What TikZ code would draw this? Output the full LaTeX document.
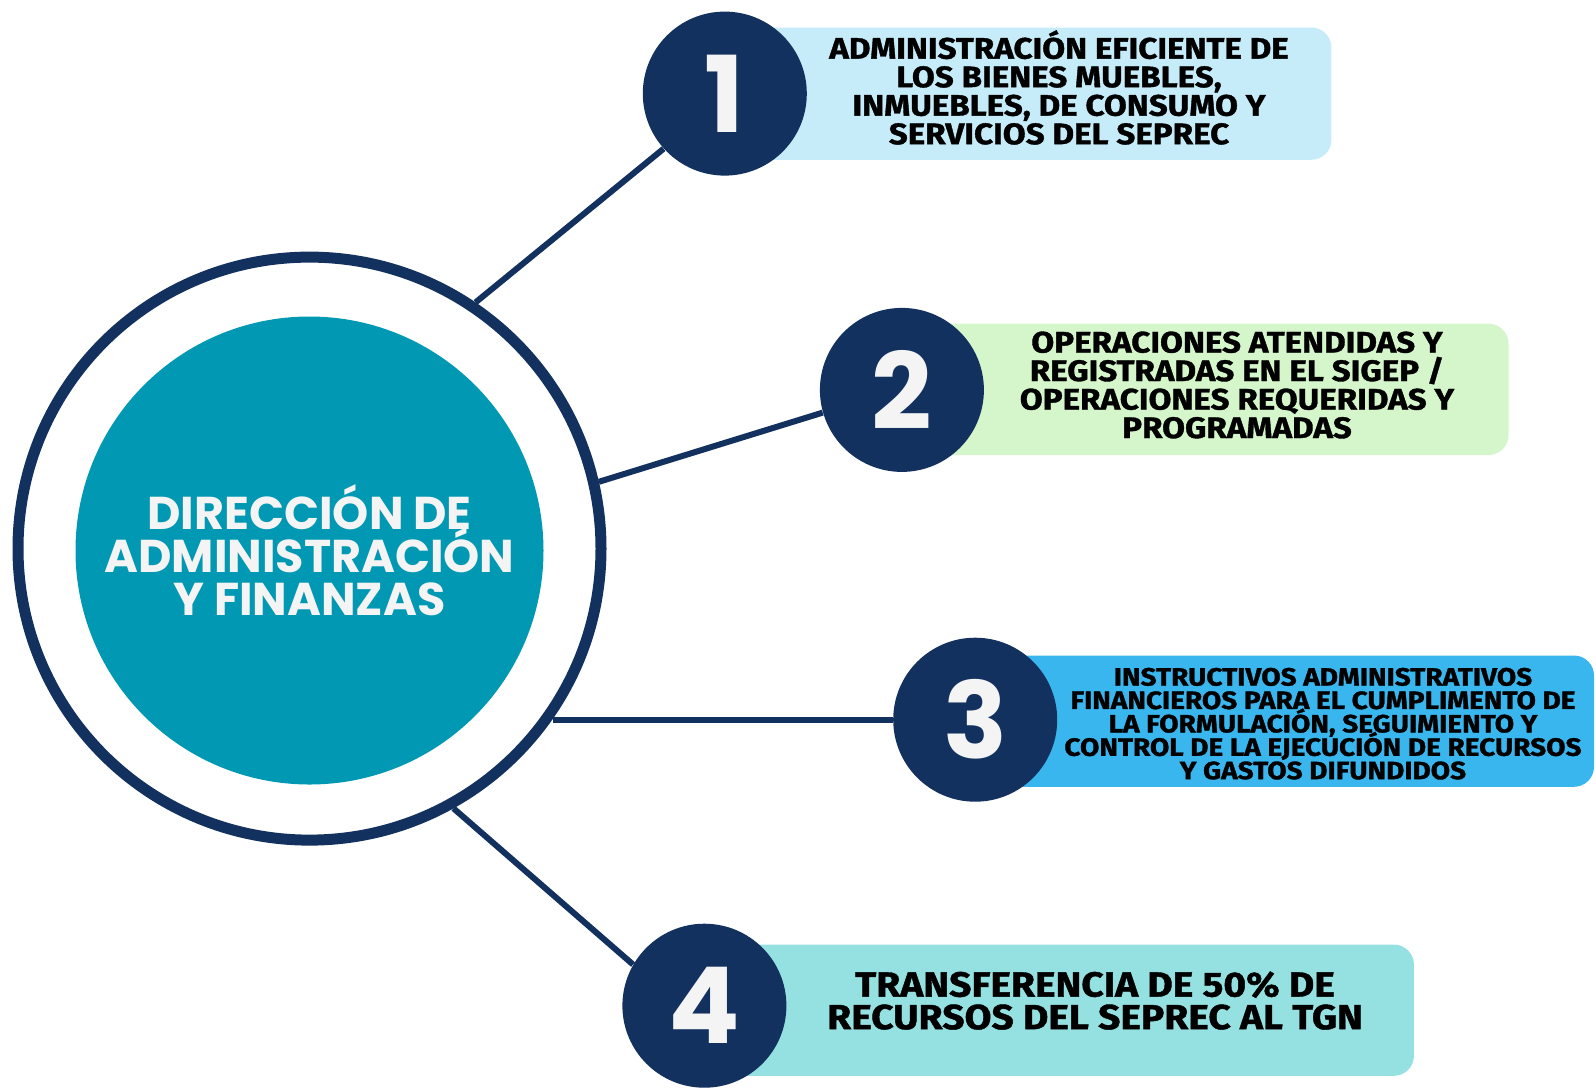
\documentclass[tikz,border=0pt]{standalone}
\usepackage{fontspec}
\setmainfont{Fira Sans}
\newfontfamily\headfont{Poppins}
\newfontfamily\boxfont[FakeStretch=1.12,BoldFeatures={FakeBold=1.2}]{Fira Sans}
\usetikzlibrary{backgrounds}
\definecolor{navy}{HTML}{12315E}
\definecolor{teal}{HTML}{0198B3}
\definecolor{boxA}{HTML}{C5ECF8}
\definecolor{boxB}{HTML}{D5F6CB}
\definecolor{boxC}{HTML}{3AB6EF}
\definecolor{boxD}{HTML}{95E1E2}
\definecolor{offwhite}{HTML}{F4F4F4}
\def\ringsize{291.5pt}
\def\numsize{82pt}
\def\tightlines{\lineskiplimit=-20pt\relax}

\begin{document}
\begin{tikzpicture}[x=0.5pt,y=-0.5pt]
    \tikzstyle{ring}=[circle,draw=navy,line width=5.5pt,minimum size=\ringsize,inner sep=0pt]
    \tikzstyle{hub}=[circle,fill=teal,minimum size=234pt,inner sep=0pt,text=offwhite,align=center,
        font=\headfont\bfseries\fontsize{23}{21.6}\selectfont\tightlines]
    \tikzstyle{number}=[circle,fill=navy,minimum size=\numsize,inner sep=0pt,text=offwhite,
        font=\headfont\bfseries\fontsize{53}{53}\selectfont]
    \tikzstyle{box}=[rounded corners=10pt]
    \tikzstyle{label}=[align=center,text=black,inner sep=0pt]
    \tikzstyle{link}=[draw=navy,line width=3pt]

    \useasboundingbox (0,0) rectangle (1596,1088);

    % Draw the central circles
    \node[ring] (ring) at (309.5,548.6) {};
    \node[hub] (hub) at (309.5,550.5) {DIRECCIÓN DE\\ADMINISTRACIÓN\\Y FINANZAS};

    % Draw the numbered circles
    \foreach \name / \x / \y in {1/724.8/93.6, 2/901.9/389.9, 3/975.2/719.7, 4/704.4/1005.7}
        \node[number] (N-\name) at (\x,\y) {\name};

    % Draw the boxes behind the numbers
    \begin{scope}[on background layer]
        \path[box,fill=boxA] (724.8,27.5) rectangle (1331.4,159.8);
        \path[box,fill=boxB] (901.9,323.7) rectangle (1508.6,455);
        \path[box,fill=boxC] (975.2,655.5) rectangle (1594,786.8);
        \path[box,fill=boxD] (704.4,944.6) rectangle (1413.9,1075.8);
    \end{scope}

    % Draw the texts
    \node[label,font=\boxfont\bfseries\fontsize{14.8}{14.25}\selectfont\tightlines] (T-1) at (1059,87.5)
        {ADMINISTRACIÓN EFICIENTE DE\\LOS BIENES MUEBLES,\\INMUEBLES, DE CONSUMO Y\\SERVICIOS DEL SEPREC};
    \node[label,font=\boxfont\bfseries\fontsize{14.8}{14.25}\selectfont\tightlines] (T-2) at (1237,385)
        {OPERACIONES ATENDIDAS Y\\REGISTRADAS EN EL SIGEP /\\OPERACIONES REQUERIDAS Y\\PROGRAMADAS};
    \node[label,font=\boxfont\bfseries\fontsize{12.5}{11.7}\selectfont\tightlines] (T-3) at (1323,723.7)
        {INSTRUCTIVOS ADMINISTRATIVOS\\FINANCIEROS PARA EL CUMPLIMENTO DE\\LA FORMULACIÓN, SEGUIMIENTO Y\\CONTROL DE LA EJECUCIÓN DE RECURSOS\\Y GASTOS DIFUNDIDOS};
    \node[label,font=\boxfont\bfseries\fontsize{17.4}{16.3}\selectfont\tightlines] (T-4) at (1095,1000.6)
        {TRANSFERENCIA DE 50\% DE\\RECURSOS DEL SEPREC AL TGN};

    % Draw the connectors
    \draw[link] (ring.56) -- (N-1.222);
    \draw[link] (ring.13) -- (N-2.196);
    \draw[link] (ring.-35 |- N-3) -- (N-3.west);
    \draw[link] (ring.-61) -- (N-4.150);
\end{tikzpicture}
\end{document}
